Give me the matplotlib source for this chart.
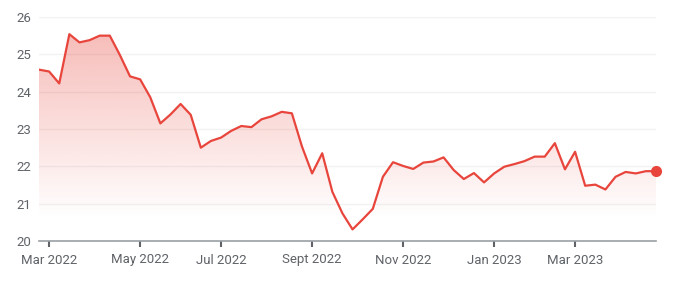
import numpy as np
import matplotlib
matplotlib.use("Agg")
import matplotlib.pyplot as plt
from matplotlib.patches import Polygon

plt.rcParams['font.family'] = ['Roboto', 'DejaVu Sans']

# weekly values, index 0..61
values = [24.59, 24.54, 24.22, 25.54, 25.32, 25.38, 25.50, 25.50, 24.98, 24.41,
          24.33, 23.85, 23.15, 23.39, 23.67, 23.38, 22.50, 22.68, 22.77, 22.95,
          23.08, 23.05, 23.26, 23.34, 23.46, 23.42, 22.53, 21.81, 22.35, 21.32,
          20.74, 20.31, 20.58, 20.86, 21.72, 22.11, 22.01, 21.93, 22.10, 22.13,
          22.24, 21.90, 21.66, 21.82, 21.57, 21.81, 21.99, 22.06, 22.14, 22.26,
          22.26, 22.62, 21.92, 22.39, 21.48, 21.51, 21.38, 21.72, 21.85, 21.81,
          21.87, 21.87]
tick_pos = [1, 10, 18, 27, 36, 45, 53]
tick_labels = ["Mar 2022", "May 2022", "Jul 2022", "Sept 2022", "Nov 2022", "Jan 2023", "Mar 2023"]
y_ticks = [20, 21, 22, 23, 24, 25, 26]

red = "#e8453c"
grey_txt = "#5f6368"

x = np.arange(len(values))
fig = plt.figure(figsize=(6.78, 2.81), dpi=100)
ax = fig.add_axes([39/678, 40/281, 617/678, 224/281])
ax.set_xlim(0, len(values) - 1)
ax.set_ylim(20, 26)

# gradient fill under the line
grad = np.zeros((256, 2, 4))
rgb = matplotlib.colors.to_rgb(red)
grad[:, :, 0], grad[:, :, 1], grad[:, :, 2] = rgb
yy = np.linspace(26, 20, 256)
alpha = np.clip((yy - 20.6) / (25.6 - 20.6), 0, 1) * 0.36
grad[:, :, 3] = alpha[:, None]
img = ax.imshow(grad, extent=[0, len(values) - 1, 20, 26], aspect='auto', zorder=1)
verts = np.vstack([[0, 20], np.column_stack([x, values]), [len(values) - 1, 20]])
poly = Polygon(verts, closed=True, facecolor='none', edgecolor='none')
ax.add_patch(poly)
img.set_clip_path(poly)

ax.plot(x, values, color=red, lw=1.6, zorder=3)
ax.plot(x[-1], values[-1], 'o', color=red, ms=7, zorder=4, clip_on=False)

ax.set_yticks(y_ticks)
ax.set_xticks(tick_pos)
ax.set_xticklabels(tick_labels)
for yv in y_ticks[1:]:
    ax.axhline(yv, color="#f2f2f2", lw=1, zorder=0)
for s in ['top', 'right', 'left']:
    ax.spines[s].set_visible(False)
ax.spines['bottom'].set_color("#9aa0a6")
ax.spines['bottom'].set_linewidth(1.2)
ax.tick_params(axis='y', length=0, pad=5.5, labelsize=9.5, labelcolor=grey_txt)
ax.tick_params(axis='x', length=4, width=1.5, color="#5f6368", pad=5, labelsize=9.5, labelcolor=grey_txt)

fig.savefig("out.png", dpi=100)
